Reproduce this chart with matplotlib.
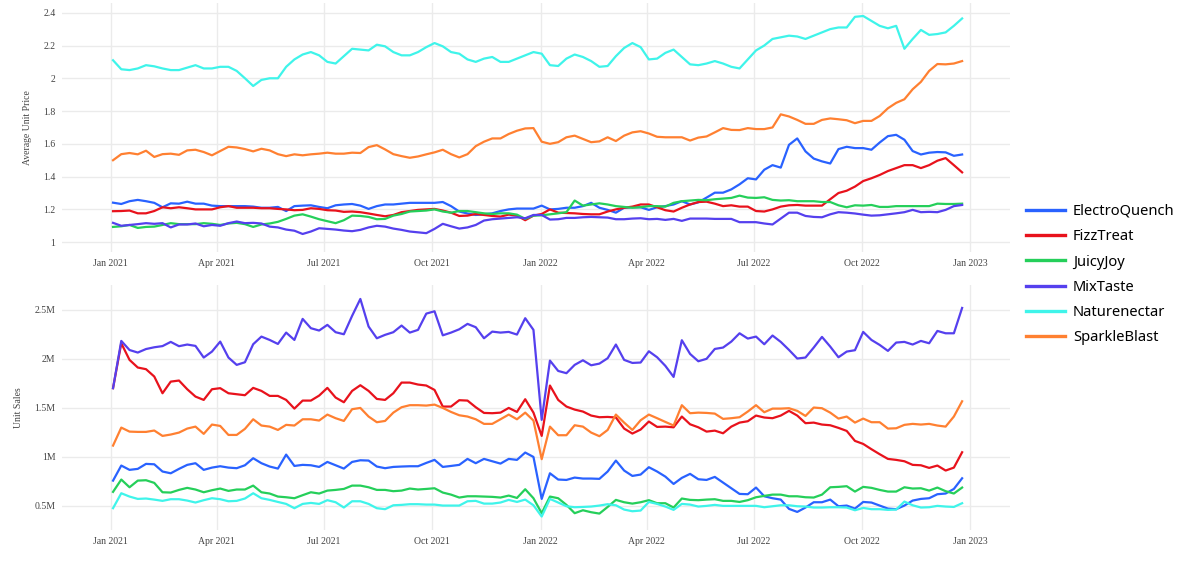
import matplotlib
matplotlib.use("Agg")

import matplotlib.pyplot as plt
import matplotlib.dates as mdates
from matplotlib.ticker import FuncFormatter
import pandas as pd

# weekly dates, first Sunday of 2021 up to Christmas 2022
dates = pd.date_range("2021-01-03", periods=104, freq="W-SUN")

brands = ["ElectroQuench", "FizzTreat", "JuicyJoy", "MixTaste", "Naturenectar", "SparkleBlast"]
colors = ["#2962ff", "#e8121c", "#25cf5a", "#5540ee", "#3ff4ea", "#ff8031"]

# Average unit price
electro_price = [1.241, 1.233, 1.25, 1.258, 1.25, 1.24, 1.213, 1.237, 1.235, 1.247, 1.235, 1.235, 1.223, 1.22, 1.22, 1.22, 1.22, 1.217, 1.21, 1.21, 1.215, 1.19, 1.22, 1.223, 1.225, 1.215, 1.207, 1.225, 1.23, 1.233, 1.223, 1.203, 1.22, 1.23, 1.23, 1.235, 1.24, 1.24, 1.24, 1.24, 1.245, 1.22, 1.187, 1.175, 1.166,
                 1.17, 1.176, 1.19, 1.2, 1.205, 1.205, 1.205, 1.223, 1.2, 1.203, 1.21, 1.21, 1.22, 1.24, 1.21, 1.197, 1.18, 1.21, 1.213, 1.213, 1.197, 1.213, 1.22, 1.23, 1.25, 1.23, 1.243, 1.272, 1.302, 1.302, 1.322, 1.353, 1.39, 1.383, 1.442, 1.47, 1.455, 1.594, 1.633, 1.554, 1.51, 1.493, 1.48, 1.568, 1.582, 1.574, 1.574, 1.564, 1.608, 1.647, 1.655, 1.625, 1.556, 1.535, 1.546, 1.55, 1.548, 1.527, 1.535]
fizz_price = [1.189, 1.19, 1.193, 1.176, 1.176, 1.19, 1.213, 1.207, 1.213, 1.207, 1.2, 1.2, 1.2, 1.213, 1.22, 1.21, 1.21, 1.21, 1.207, 1.207, 1.203, 1.2, 1.195, 1.197, 1.207, 1.203, 1.195, 1.193, 1.185, 1.187, 1.183, 1.175, 1.166, 1.158, 1.166, 1.183, 1.19, 1.197, 1.2, 1.203, 1.193, 1.18, 1.16, 1.162, 1.172,
              1.166, 1.16, 1.156, 1.168, 1.162, 1.134, 1.162, 1.172, 1.2, 1.18, 1.178, 1.176, 1.172, 1.17, 1.17, 1.187, 1.2, 1.21, 1.217, 1.23, 1.23, 1.213, 1.195, 1.187, 1.21, 1.23, 1.245, 1.247, 1.235, 1.22, 1.225, 1.217, 1.217, 1.19, 1.187, 1.2, 1.217, 1.225, 1.227, 1.223, 1.223, 1.223, 1.262, 1.3, 1.314, 1.339, 1.373, 1.39, 1.41, 1.434, 1.452, 1.47, 1.47, 1.452, 1.47, 1.497, 1.513, 1.47, 1.426]
juicy_price = [1.093, 1.097, 1.105, 1.087, 1.093, 1.095, 1.105, 1.116, 1.11, 1.11, 1.11, 1.116, 1.112, 1.105, 1.114, 1.118, 1.11, 1.093, 1.108, 1.114, 1.124, 1.142, 1.162, 1.17, 1.156, 1.14, 1.128, 1.116, 1.134, 1.162, 1.16, 1.154, 1.14, 1.142, 1.162, 1.172, 1.187, 1.19, 1.193, 1.2, 1.187, 1.18, 1.19, 1.19, 1.183,
               1.176, 1.172, 1.176, 1.176, 1.168, 1.142, 1.162, 1.164, 1.17, 1.176, 1.183, 1.254, 1.223, 1.23, 1.237, 1.23, 1.22, 1.215, 1.21, 1.213, 1.22, 1.22, 1.217, 1.24, 1.25, 1.254, 1.258, 1.256, 1.262, 1.266, 1.27, 1.284, 1.272, 1.27, 1.274, 1.258, 1.254, 1.256, 1.25, 1.25, 1.25, 1.245, 1.245, 1.225, 1.213, 1.225, 1.223, 1.227, 1.215, 1.215, 1.22, 1.22, 1.22, 1.22, 1.22, 1.235, 1.233, 1.233, 1.235]
mix_price = [1.118, 1.10, 1.105, 1.11, 1.116, 1.112, 1.116, 1.09, 1.108, 1.108, 1.114, 1.097, 1.105, 1.10, 1.116, 1.126, 1.116, 1.118, 1.114, 1.095, 1.09, 1.077, 1.07, 1.05, 1.065, 1.085, 1.081, 1.077, 1.071, 1.067, 1.075, 1.09, 1.10, 1.095, 1.083, 1.075, 1.065, 1.06, 1.055, 1.081, 1.112, 1.097, 1.083, 1.09, 1.105,
             1.132, 1.14, 1.144, 1.148, 1.152, 1.146, 1.166, 1.166, 1.138, 1.14, 1.148, 1.148, 1.152, 1.154, 1.152, 1.15, 1.14, 1.14, 1.144, 1.146, 1.14, 1.142, 1.136, 1.142, 1.13, 1.144, 1.144, 1.144, 1.142, 1.142, 1.142, 1.122, 1.122, 1.122, 1.114, 1.108, 1.144, 1.18, 1.18, 1.16, 1.154, 1.152, 1.17, 1.183, 1.18, 1.175, 1.168, 1.162, 1.164, 1.17, 1.176, 1.183, 1.197, 1.183, 1.185, 1.183, 1.197, 1.22, 1.227]
nature_price = [2.11, 2.055, 2.05, 2.06, 2.08, 2.073, 2.06, 2.05, 2.05, 2.065, 2.08, 2.06, 2.06, 2.07, 2.07, 2.045, 2.0, 1.953, 1.99, 2.0, 2.0, 2.07, 2.115, 2.145, 2.16, 2.14, 2.10, 2.09, 2.135, 2.18, 2.175, 2.17, 2.205, 2.195, 2.16, 2.14, 2.14, 2.16, 2.19, 2.215, 2.195, 2.16, 2.15, 2.115, 2.10,
                2.12, 2.13, 2.10, 2.10, 2.12, 2.14, 2.16, 2.15, 2.08, 2.075, 2.12, 2.145, 2.13, 2.105, 2.07, 2.075, 2.135, 2.185, 2.215, 2.19, 2.115, 2.12, 2.155, 2.175, 2.13, 2.085, 2.08, 2.09, 2.105, 2.09, 2.07, 2.06, 2.115, 2.17, 2.20, 2.24, 2.25, 2.26, 2.255, 2.24, 2.26, 2.28, 2.30, 2.31, 2.31, 2.375, 2.38, 2.35, 2.32, 2.305, 2.32, 2.18, 2.24, 2.295, 2.265, 2.27, 2.28, 2.32, 2.365]
sparkle_price = [1.50, 1.537, 1.544, 1.536, 1.558, 1.52, 1.537, 1.54, 1.533, 1.56, 1.564, 1.55, 1.53, 1.556, 1.582, 1.578, 1.568, 1.554, 1.57, 1.56, 1.537, 1.525, 1.536, 1.53, 1.536, 1.54, 1.546, 1.54, 1.54, 1.546, 1.544, 1.58, 1.592, 1.566, 1.537, 1.525, 1.515, 1.523, 1.536, 1.548, 1.564, 1.537, 1.517, 1.537, 1.586,
                 1.613, 1.633, 1.633, 1.66, 1.68, 1.694, 1.696, 1.613, 1.60, 1.61, 1.64, 1.65, 1.63, 1.61, 1.615, 1.64, 1.617, 1.65, 1.67, 1.677, 1.663, 1.643, 1.64, 1.64, 1.64, 1.62, 1.638, 1.645, 1.67, 1.696, 1.685, 1.684, 1.696, 1.69, 1.69, 1.70, 1.78, 1.767, 1.746, 1.722, 1.722, 1.746, 1.755, 1.75, 1.744, 1.726, 1.74, 1.74, 1.77, 1.817, 1.85, 1.872, 1.933, 1.978, 2.045, 2.087, 2.085, 2.09, 2.105]

# Unit sales, in millions
electro_sales = [0.755, 0.909, 0.865, 0.875, 0.926, 0.922, 0.848, 0.83, 0.875, 0.916, 0.933, 0.865, 0.888, 0.902, 0.888, 0.882, 0.912, 0.984, 0.933, 0.899, 0.878, 1.021, 0.905, 0.916, 0.912, 0.895, 0.946, 0.912, 0.878, 0.946, 0.963, 0.96, 0.899, 0.882, 0.895, 0.899, 0.902, 0.902, 0.936, 0.967, 0.895, 0.905, 0.916, 0.977, 0.933,
                 0.977, 0.953, 0.929, 0.977, 0.967, 1.042, 0.997, 0.568, 0.83, 0.766, 0.762, 0.786, 0.776, 0.776, 0.773, 0.848, 0.96, 0.858, 0.803, 0.817, 0.892, 0.848, 0.796, 0.721, 0.783, 0.824, 0.769, 0.762, 0.793, 0.735, 0.677, 0.619, 0.616, 0.684, 0.595, 0.575, 0.561, 0.466, 0.435, 0.48, 0.534, 0.534, 0.561, 0.493, 0.5, 0.469, 0.537, 0.531, 0.5, 0.469, 0.463, 0.5, 0.551, 0.568, 0.575, 0.616, 0.623, 0.67, 0.779]
fizz_sales = [1.70, 2.159, 1.989, 1.911, 1.894, 1.819, 1.648, 1.767, 1.778, 1.689, 1.614, 1.58, 1.689, 1.70, 1.648, 1.638, 1.628, 1.703, 1.672, 1.621, 1.621, 1.58, 1.491, 1.573, 1.573, 1.624, 1.703, 1.604, 1.556, 1.672, 1.73, 1.672, 1.59, 1.58, 1.648, 1.757, 1.757, 1.737, 1.727, 1.682, 1.512, 1.512, 1.577, 1.573, 1.505,
              1.447, 1.444, 1.45, 1.498, 1.457, 1.587, 1.45, 1.212, 1.727, 1.58, 1.512, 1.481, 1.461, 1.42, 1.403, 1.406, 1.40, 1.287, 1.236, 1.277, 1.359, 1.304, 1.307, 1.30, 1.41, 1.331, 1.30, 1.256, 1.266, 1.239, 1.307, 1.348, 1.362, 1.42, 1.40, 1.393, 1.42, 1.468, 1.42, 1.342, 1.348, 1.328, 1.321, 1.294, 1.263, 1.161, 1.13, 1.076, 1.025, 0.977, 0.967, 0.953, 0.916, 0.912, 0.885, 0.909, 0.858, 0.888, 1.045]
juicy_sales = [0.64, 0.766, 0.687, 0.755, 0.759, 0.732, 0.636, 0.633, 0.66, 0.681, 0.664, 0.636, 0.657, 0.674, 0.65, 0.664, 0.664, 0.704, 0.636, 0.623, 0.592, 0.585, 0.575, 0.606, 0.636, 0.623, 0.653, 0.66, 0.67, 0.704, 0.704, 0.687, 0.66, 0.66, 0.647, 0.653, 0.674, 0.664, 0.67, 0.677, 0.633, 0.612, 0.582, 0.595, 0.595,
               0.592, 0.589, 0.582, 0.602, 0.578, 0.667, 0.575, 0.422, 0.592, 0.575, 0.507, 0.422, 0.452, 0.432, 0.418, 0.486, 0.558, 0.534, 0.52, 0.534, 0.555, 0.524, 0.524, 0.48, 0.572, 0.558, 0.555, 0.561, 0.565, 0.548, 0.548, 0.537, 0.555, 0.585, 0.599, 0.612, 0.612, 0.595, 0.595, 0.585, 0.582, 0.612, 0.687, 0.691, 0.698, 0.643, 0.691, 0.681, 0.66, 0.643, 0.643, 0.687, 0.674, 0.677, 0.653, 0.684, 0.647, 0.623, 0.684]
mix_sales = [1.70, 2.183, 2.09, 2.064, 2.10, 2.118, 2.13, 2.173, 2.129, 2.146, 2.132, 2.013, 2.074, 2.176, 2.013, 1.938, 1.965, 2.149, 2.227, 2.193, 2.152, 2.268, 2.193, 2.408, 2.313, 2.289, 2.347, 2.272, 2.251, 2.439, 2.612, 2.33, 2.21, 2.245, 2.272, 2.34, 2.268, 2.296, 2.462, 2.486, 2.24, 2.268, 2.302, 2.357, 2.323,
             2.21, 2.278, 2.268, 2.275, 2.248, 2.415, 2.296, 1.376, 1.982, 1.876, 1.853, 1.938, 1.985, 1.934, 1.951, 2.006, 2.146, 1.989, 1.958, 1.962, 2.077, 2.016, 1.928, 1.815, 2.19, 2.05, 1.975, 2.0, 2.101, 2.115, 2.176, 2.261, 2.207, 2.227, 2.149, 2.238, 2.173, 2.091, 2.003, 2.013, 2.115, 2.224, 2.125, 2.016, 2.074, 2.088, 2.275, 2.193, 2.142, 2.081, 2.166, 2.173, 2.146, 2.183, 2.159, 2.285, 2.261, 2.261, 2.52]
nature_sales = [0.473, 0.626, 0.592, 0.568, 0.572, 0.561, 0.548, 0.565, 0.565, 0.551, 0.531, 0.555, 0.575, 0.565, 0.544, 0.548, 0.572, 0.626, 0.575, 0.558, 0.537, 0.517, 0.473, 0.517, 0.527, 0.517, 0.555, 0.534, 0.48, 0.544, 0.544, 0.517, 0.473, 0.463, 0.503, 0.507, 0.514, 0.514, 0.51, 0.51, 0.5, 0.5, 0.5, 0.544, 0.548,
                0.52, 0.52, 0.531, 0.558, 0.537, 0.561, 0.503, 0.388, 0.568, 0.531, 0.493, 0.483, 0.486, 0.49, 0.5, 0.514, 0.503, 0.459, 0.442, 0.449, 0.537, 0.517, 0.49, 0.456, 0.517, 0.51, 0.49, 0.497, 0.507, 0.497, 0.497, 0.497, 0.497, 0.497, 0.483, 0.493, 0.503, 0.503, 0.493, 0.49, 0.48, 0.48, 0.483, 0.483, 0.48, 0.452, 0.476, 0.463, 0.463, 0.456, 0.459, 0.541, 0.503, 0.48, 0.483, 0.497, 0.49, 0.486, 0.524]
sparkle_sales = [1.113, 1.297, 1.256, 1.253, 1.253, 1.267, 1.212, 1.226, 1.246, 1.287, 1.307, 1.233, 1.328, 1.314, 1.222, 1.222, 1.284, 1.382, 1.318, 1.307, 1.273, 1.325, 1.318, 1.382, 1.382, 1.369, 1.43, 1.393, 1.365, 1.485, 1.498, 1.41, 1.352, 1.365, 1.45, 1.505, 1.526, 1.526, 1.522, 1.532, 1.498, 1.457, 1.423, 1.41, 1.382,
                 1.335, 1.335, 1.382, 1.43, 1.382, 1.45, 1.369, 0.974, 1.307, 1.219, 1.219, 1.321, 1.307, 1.246, 1.209, 1.273, 1.43, 1.348, 1.273, 1.372, 1.43, 1.393, 1.355, 1.318, 1.526, 1.444, 1.45, 1.447, 1.44, 1.386, 1.393, 1.403, 1.461, 1.526, 1.454, 1.491, 1.491, 1.495, 1.468, 1.416, 1.502, 1.495, 1.45, 1.389, 1.41, 1.348, 1.389, 1.352, 1.352, 1.287, 1.29, 1.325, 1.335, 1.328, 1.335, 1.318, 1.307, 1.41, 1.566]

prices = [electro_price, fizz_price, juicy_price, mix_price, nature_price, sparkle_price]
sales = [electro_sales, fizz_sales, juicy_sales, mix_sales, nature_sales, sparkle_sales]

tick_font = "Liberation Serif"
grid_col = "#ebebeb"

fig = plt.figure(figsize=(12, 5.78), dpi=100)
ax1 = fig.add_axes([0.052, 0.564, 0.79, 0.431])
ax2 = fig.add_axes([0.052, 0.083, 0.79, 0.424])

lines = []
for name, col, p, s in zip(brands, colors, prices, sales):
    ln, = ax1.plot(dates, p, color=col, lw=1.6, label=name)
    ax2.plot(dates, s, color=col, lw=1.6)
    lines.append(ln)

xticks = pd.date_range("2021-01-01", "2023-01-01", freq="QS")
for ax in (ax1, ax2):
    ax.set_xlim(pd.Timestamp("2020-11-21"), pd.Timestamp("2023-02-04"))
    ax.set_xticks(xticks)
    ax.xaxis.set_major_formatter(mdates.DateFormatter("%b %Y"))
    ax.grid(True, color=grid_col, lw=1)
    ax.set_axisbelow(True)
    for sp in ax.spines.values():
        sp.set_visible(False)
    ax.tick_params(length=0, labelsize=7, colors="#444444", pad=5)

ax1.set_ylim(0.94, 2.46)
ax1.set_yticks([1, 1.2, 1.4, 1.6, 1.8, 2, 2.2, 2.4])
ax1.yaxis.set_major_formatter(FuncFormatter(lambda v, _: f"{v:g}"))
ax1.set_ylabel("Average Unit Price", fontsize=7, family=tick_font, color="#444444", labelpad=8)

ax2.set_ylim(0.25, 2.755)
ax2.set_yticks([0.5, 1, 1.5, 2, 2.5])
ax2.yaxis.set_major_formatter(FuncFormatter(lambda v, _: f"{v:g}M"))
ax2.set_ylabel("Unit Sales", fontsize=7, family=tick_font, color="#444444", labelpad=8)

for ax in (ax1, ax2):
    for lab in ax.get_xticklabels() + ax.get_yticklabels():
        lab.set_fontfamily(tick_font)

leg = fig.legend(lines, brands, loc="upper left", bbox_to_anchor=(0.85, 0.6574),
                 borderaxespad=0, frameon=False, prop={"family": "Noto Sans", "size": 10.6},
                 handlelength=2.65, handletextpad=0.55, labelspacing=0.7)
for h in leg.get_lines():
    h.set_linewidth(2.4)

fig.savefig("out.png", dpi=100)
plt.close(fig)
